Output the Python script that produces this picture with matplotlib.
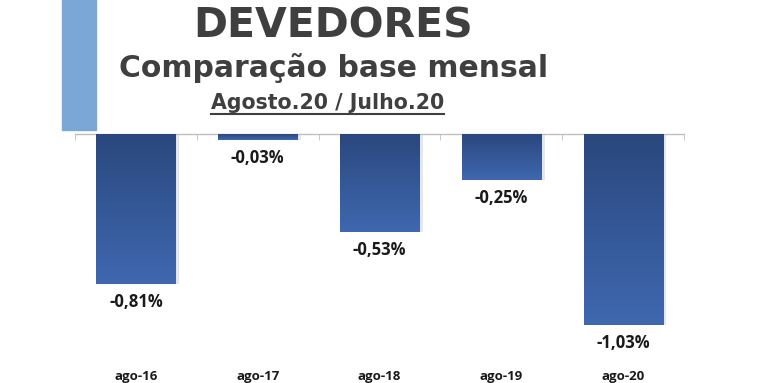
import matplotlib
matplotlib.use("Agg")
import matplotlib.pyplot as plt
import numpy as np
from matplotlib.patches import Rectangle

categories = ["ago-16", "ago-17", "ago-18", "ago-19", "ago-20"]
values = [-0.81, -0.03, -0.53, -0.25, -1.03]
labels = ["-0,81%", "-0,03%", "-0,53%", "-0,25%", "-1,03%"]

title = "DEVEDORES"
subtitle = "Comparação base mensal"
period = "Agosto.20 / Julho.20"

W, H = 768, 383
fig = plt.figure(figsize=(W / 100, H / 100), dpi=100)

# light-blue accent block at top-left
fig.patches.append(Rectangle((62 / W, 1 - 130 / H), 34 / W, 130 / H,
                             transform=fig.transFigure, color="#7BA7D6", zorder=0))

left, right = 75 / W, 684 / W
top = 1 - 134 / H
bottom = 1 - 338 / H
ax = fig.add_axes([left, bottom, right - left, top - bottom])

x = np.arange(len(categories))
bars = ax.bar(x, values, width=0.65, color="#345A9A", zorder=2)
ax.set_xlim(-0.5, len(categories) - 0.5)
ax.set_ylim(-1.1, 0)

cmap = matplotlib.colors.LinearSegmentedColormap.from_list("g", ["#2A477D", "#3F68B0"])
grad = np.linspace(0, 1, 256).reshape(-1, 1)
for b in bars:
    x0, w, h = b.get_x(), b.get_width(), b.get_height()
    ax.add_patch(Rectangle((x0 + w, h), 0.03, -h, color="#E3E6EA", zorder=1, lw=0))
    im = ax.imshow(grad, cmap=cmap, aspect="auto", extent=(x0, x0 + w, h, 0),
                   zorder=3, interpolation="bicubic")
    im.set_clip_path(b)

for xi, v, lab in zip(x, values, labels):
    ax.annotate(lab, (xi, v), xytext=(0, -13), textcoords="offset points",
                ha="center", va="center", fontsize=12, fontweight="bold",
                color="#1A1A1A", family="Open Sans")

for s in ["left", "right", "bottom"]:
    ax.spines[s].set_visible(False)
ax.spines["top"].set_color("#BFBFBF")
ax.spines["top"].set_linewidth(1.0)
ax.set_yticks([])
ax.set_xticks(x)
ax.set_xticklabels(categories, fontsize=9.5, fontweight="bold", family="Open Sans", color="#1A1A1A")
ax.tick_params(axis="x", which="major", length=0, pad=23)
ax.set_xticks(np.arange(-0.5, len(categories)), minor=True)
ax.tick_params(axis="x", which="minor", bottom=False, top=True, direction="in",
               length=4, color="#BFBFBF")
ax.set_facecolor("none")

fig.text(333 / W, 1 - 27 / H, title, ha="center", va="center", fontsize=29.5,
         fontweight="bold", color="#3F3F3F", family="DejaVu Sans")
fig.text(334 / W, 1 - 68 / H, subtitle, ha="center", va="center", fontsize=21.5,
         fontweight="bold", color="#3F3F3F", family="DejaVu Sans")
fig.text(328 / W, 1 - 103 / H, period, ha="center", va="center", fontsize=14.8,
         fontweight="bold", color="#3F3F3F", family="DejaVu Sans")
fig.lines.append(matplotlib.lines.Line2D([211 / W, 444 / W], [1 - 114 / H, 1 - 114 / H],
                                         transform=fig.transFigure, color="#3F3F3F", lw=1.5))

fig.savefig("out.png", dpi=100)
